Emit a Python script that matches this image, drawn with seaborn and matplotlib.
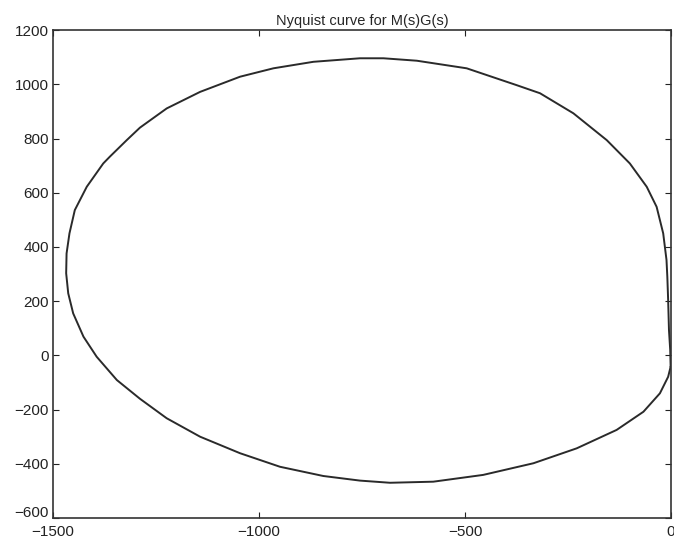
import matplotlib
matplotlib.use("Agg")
import matplotlib.pyplot as plt
import matplotlib.transforms as mtransforms
import pandas as pd
import seaborn as sns

re_vals = [-1, -2, -5, -7, -9, -11, -19, -35, -59, -100, -156, -237, -318, -375,
           -496, -617, -698, -755, -868, -965, -1046, -1143, -1224, -1257, -1289,
           -1321, -1362, -1378, -1418, -1447, -1460, -1467, -1468, -1463, -1451,
           -1426, -1394, -1345, -1289, -1224, -1143, -1046, -949, -844, -755, -682,
           -577, -456, -334, -229, -132, -67, -27, -7, -1]
im_vals = [-42, 20, 93, 204, 290, 352, 450, 548, 622, 708, 794, 893, 967, 997,
           1059, 1087, 1096, 1096, 1083, 1059, 1028, 972, 911, 875, 840,
           794, 733, 708, 622, 536, 450, 376, 303, 229, 155,
           69, -5, -91, -160, -232, -300, -361, -411, -445, -462, -470,
           -466, -441, -398, -343, -275, -208, -140, -79, -42]

x_ticks = [-1500, -1000, -500, 0]
y_ticks = [-600, -400, -200, 0, 200, 400, 600, 800, 1000, 1200]

df = pd.DataFrame({'re': re_vals, 'im': im_vals})

sns.set_style("ticks", {'xtick.direction': 'in', 'ytick.direction': 'in'})
plt.rcParams['font.family'] = ['Liberation Sans', 'DejaVu Sans']

fig = plt.figure(figsize=(6.74, 5.47), dpi=100)
ax = fig.add_axes([0.0786, 0.053, 0.917, 0.892])

sns.lineplot(data=df, x='re', y='im', sort=False, estimator=None,
             color='#2a2a2a', linewidth=1.4, ax=ax)

ax.set_xlim(-1500, 0)
ax.set_ylim(-600, 1200)
ax.set_xticks(x_ticks)
ax.set_yticks(y_ticks)
ax.set_xticklabels(['\u22121500', '\u22121000', '\u2212500', '0'])
ax.set_yticklabels([('\u2212' + str(-v)) if v < 0 else str(v) for v in y_ticks])
ax.tick_params(axis='both', direction='in', length=4, width=0.8, labelsize=11,
               top=True, right=True, colors='#222222')
ax.tick_params(axis='x', pad=5)
ax.tick_params(axis='y', pad=3)
for s in ax.spines.values():
    s.set_color('#333333')
    s.set_linewidth(1.2)

# the bottom y label sits a little higher, as in the original
lbl = ax.get_yticklabels()[0]
lbl.set_transform(lbl.get_transform() + mtransforms.ScaledTranslation(0, 5 / 72, fig.dpi_scale_trans))

ax.set_xlabel('')
ax.set_ylabel('')
ax.set_title('Nyquist curve for M(s)G(s)', fontsize=10.5, pad=4)

fig.savefig('out.png', dpi=100)
